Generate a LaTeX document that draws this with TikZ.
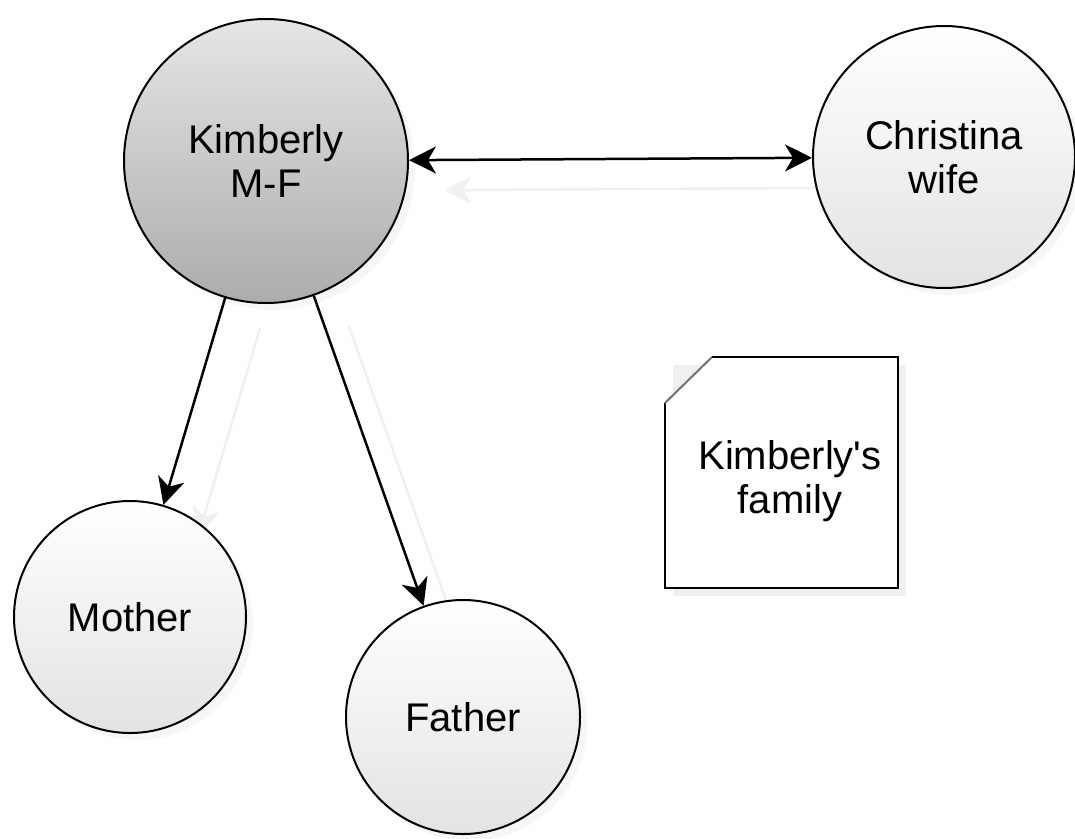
\documentclass[tikz,border=0pt]{standalone}
\usepackage{fontspec}
\setmainfont{Liberation Sans}
\usepackage{tikz}
\usetikzlibrary{arrows.meta}
\usetikzlibrary{shadows}
\usetikzlibrary{backgrounds}

\tikzset{
  person/.style={circle, draw=black, line width=2pt, align=center,
    font=\fontsize{40}{44}\selectfont, shading=axis, shading angle=45,
    drop shadow={shadow xshift=7pt, shadow yshift=-7pt, opacity=0.07}},
  self/.style={person, top color=gray!20, bottom color=gray!65},
  kin/.style={person, top color=white, bottom color=gray!22},
  link/.style={line width=2.5pt, >={Stealth[length=27pt,width=27pt,inset=8pt]}, ->},
  ghost/.style={link, color=black!6}
}

\begin{document}
\begin{tikzpicture}[x=1pt,y=-1pt]
  \useasboundingbox (0,0) rectangle (1075,838);
  \node (kim)    [self, minimum size=284pt] at (266,161) {Kimberly\\M-F};
  \node (chris)  [kin,  minimum size=262pt] at (944,157) {Christina\\wife};
  \node (mother) [kin,  minimum size=232pt] at (130,617) {Mother};
  \node (father) [kin,  minimum size=234pt] at (463,717) {Father};

  % note
  \fill[black!6] (673,365) rectangle (906,596);
  \fill[white] (665,403) -- (712,357) -- (898,357) -- (898,588) -- (665,588) -- cycle;
  \draw[line width=2.5pt] (712,357) -- (898,357) -- (898,588) -- (665,588) -- (665,403);
  \draw[line width=2pt, black!55] (665,403) -- (712,357);
  \node (note) [align=center, font=\fontsize{40}{44}\selectfont] at (790,481) {Kimberly\textquotesingle s\\family};

  \begin{pgfonlayer}{background}
    \begin{scope}[transform canvas={shift={(35,30)}}]
      \path[ghost]
        (kim) edge [<->] (chris)
        (kim) edge (mother)
        (kim) edge (father);
    \end{scope}
    \path[link]
      (kim) edge [<->] (chris)
      (kim) edge (mother)
      (kim) edge (father);
  \end{pgfonlayer}
\end{tikzpicture}
\end{document}
